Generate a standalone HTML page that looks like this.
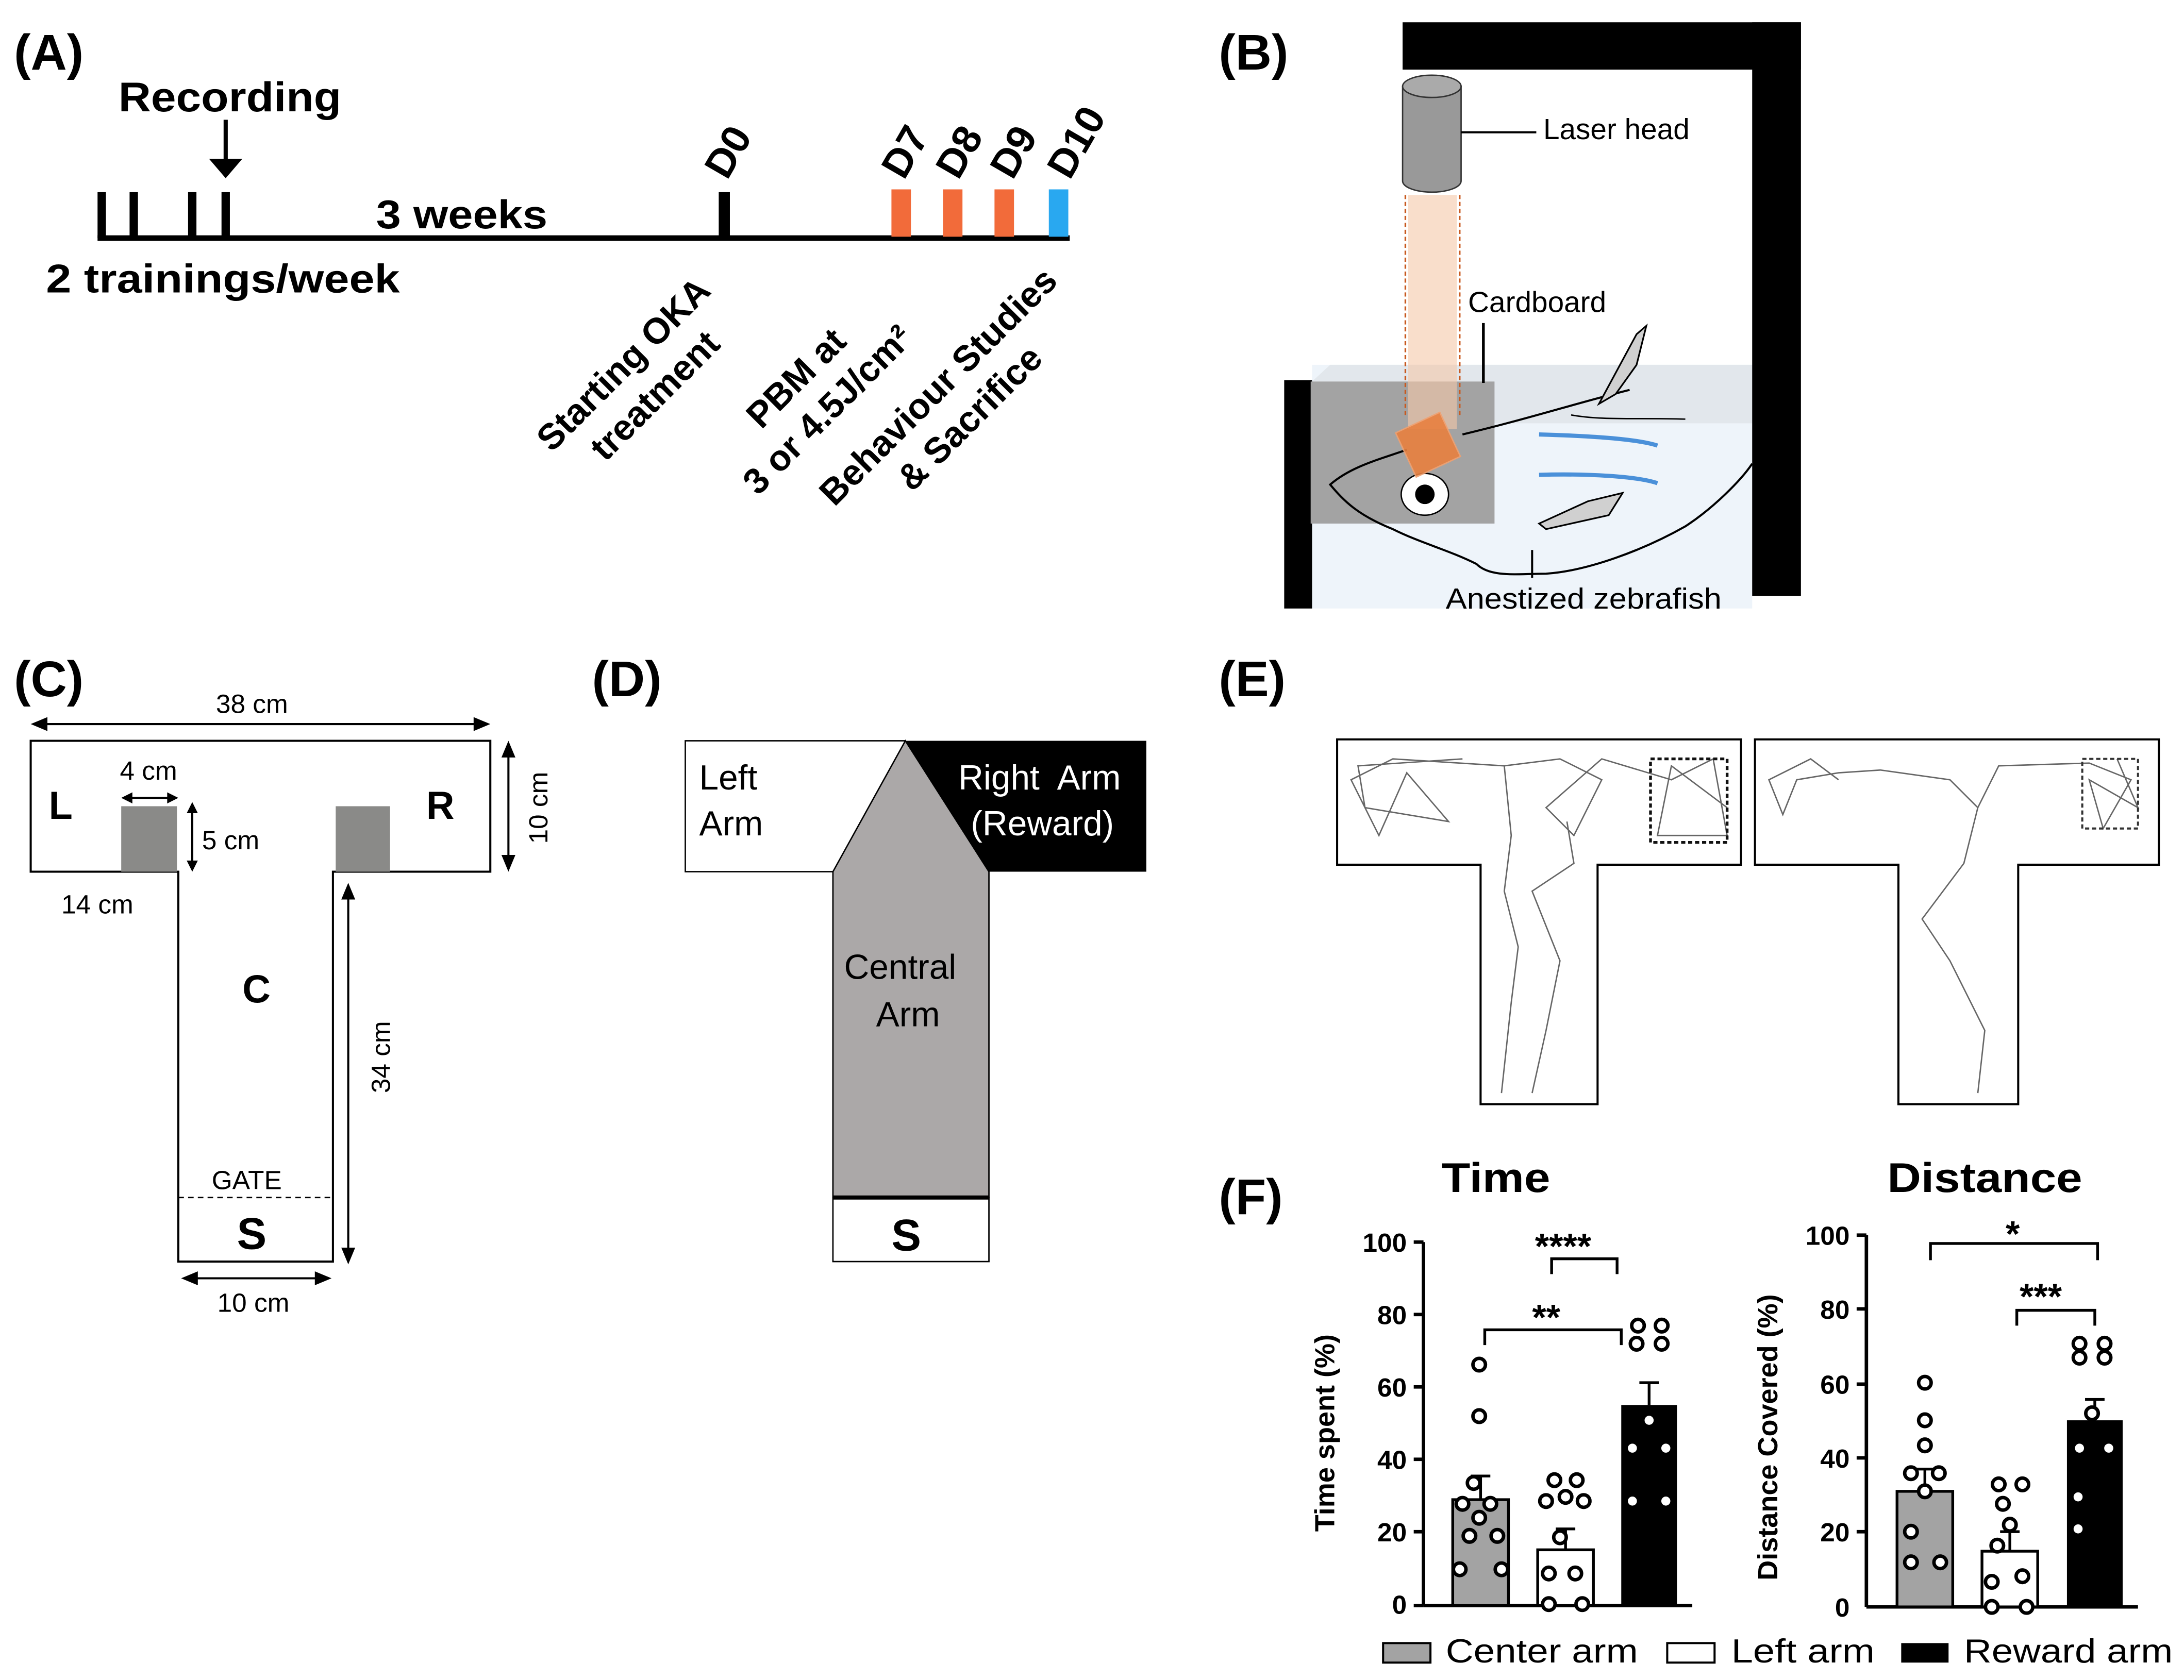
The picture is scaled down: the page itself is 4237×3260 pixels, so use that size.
<!DOCTYPE html>
<html><head><meta charset="utf-8"><style>html,body{margin:0;padding:0;background:#fff}svg{display:block}</style></head>
<body>
<svg width="4237" height="3260" viewBox="0 0 1568 1206.5" xmlns="http://www.w3.org/2000/svg" font-family="Liberation Sans, Arial, sans-serif">
<rect width="1568" height="1206.5" fill="#fff"/>
<!-- Panel A -->
<g>
<text x="10" y="50" font-size="36" font-weight="bold">(A)</text>
<text x="85" y="80" font-size="30" font-weight="bold" textLength="160" lengthAdjust="spacingAndGlyphs">Recording</text>
<line x1="162" y1="86" x2="162" y2="118" stroke="#000" stroke-width="3"/>
<polygon points="150,114 174,114 162,128" fill="#000"/>
<line x1="70" y1="171" x2="768" y2="171" stroke="#000" stroke-width="4"/>
<g fill="#000"><rect x="70" y="138" width="6" height="33"/><rect x="93" y="138" width="6" height="33"/>
<rect x="135" y="138" width="6" height="33"/><rect x="159" y="138" width="6" height="33"/>
<rect x="516" y="138" width="8" height="33"/></g>
<rect x="640" y="136" width="14" height="34" fill="#f26b3a"/>
<rect x="677" y="136" width="14" height="34" fill="#f26b3a"/>
<rect x="714" y="136" width="14" height="34" fill="#f26b3a"/>
<rect x="753" y="136" width="14" height="34" fill="#29a8f0"/>
<text x="270" y="164" font-size="29" font-weight="bold" textLength="123" lengthAdjust="spacingAndGlyphs">3 weeks</text>
<text x="33" y="210" font-size="29" font-weight="bold" textLength="254" lengthAdjust="spacingAndGlyphs">2 trainings/week</text>
<g font-size="29" font-weight="bold">
<text transform="translate(522,130) rotate(-60)">D0</text>
<text transform="translate(649,130) rotate(-60)">D7</text>
<text transform="translate(688,130) rotate(-60)">D8</text>
<text transform="translate(727,130) rotate(-60)">D9</text>
<text transform="translate(768,130) rotate(-60)">D10</text>
</g>
<g font-size="26" font-weight="bold" text-anchor="middle">
<text transform="translate(458,272) rotate(-45)"><tspan x="0" y="-6">Starting OKA</tspan><tspan x="0" y="26">treatment</tspan></text>
<text transform="translate(582,282) rotate(-45)"><tspan x="0" y="-6">PBM at</tspan><tspan x="0" y="26">3 or 4.5J/cm²</tspan></text>
<text transform="translate(684,288) rotate(-45)"><tspan x="0" y="-6">Behaviour Studies</tspan><tspan x="0" y="26">&amp; Sacrifice</tspan></text>
</g>
</g>
<!-- Panel B -->
<g>
<text x="875" y="50" font-size="36" font-weight="bold">(B)</text>
<rect x="942" y="262" width="316" height="175" fill="#eef4fa"/>
<polygon points="942,274 955,262 1258,262 1258,304 942,304" fill="#e2e7ec"/>
<rect x="1007" y="16" width="286" height="34" fill="#000"/>
<rect x="1258" y="16" width="35" height="412" fill="#000"/>
<rect x="922" y="273" width="20" height="164" fill="#000"/>
<rect x="941" y="274" width="132" height="102" fill="#a3a3a3"/>
<rect x="1011" y="140" width="35" height="168" fill="#f5c8a8" opacity="0.6"/>
<line x1="1009" y1="140" x2="1009" y2="300" stroke="#c85a20" stroke-width="1.2" stroke-dasharray="3,2"/>
<line x1="1048" y1="140" x2="1048" y2="300" stroke="#c85a20" stroke-width="1.2" stroke-dasharray="3,2"/>
<path d="M1007,62 L1007,130 A21,8 0 0 0 1049,130 L1049,62 Z" fill="#999" stroke="#333"/>
<ellipse cx="1028" cy="62" rx="21" ry="8" fill="#aaa" stroke="#333"/>
<line x1="1049" y1="95" x2="1103" y2="95" stroke="#000" stroke-width="1.5"/>
<text x="1108" y="100" font-size="21">Laser head</text>
<text x="1054" y="224" font-size="21">Cardboard</text>
<line x1="1065" y1="232" x2="1065" y2="275" stroke="#000" stroke-width="2"/>
<path d="M1050,312 C1100,300 1130,290 1170,280 M1010,323 C990,330 970,335 955,348 C965,360 975,370 1000,380 C1020,390 1040,395 1060,405 C1070,415 1090,412 1110,412 C1140,410 1180,395 1210,378 C1230,365 1250,345 1258,333" fill="none" stroke="#000" stroke-width="1.5"/>
<path d="M1148,290 L1175,240 L1182,234 L1175,262 L1160,283 Z" fill="#d0d0d0" stroke="#000" stroke-width="1.2"/>
<path d="M1105,376 L1140,360 L1165,354 L1155,370 L1110,380 Z" fill="#d0d0d0" stroke="#000" stroke-width="1.2"/>
<path d="M1105,312 C1140,313 1175,315 1190,320 M1105,341 C1140,340 1175,342 1190,347" stroke="#4a90d9" stroke-width="3" fill="none"/>
<path d="M1128,298 C1150,302 1175,300 1210,301" stroke="#000" fill="none"/>
<ellipse cx="1023" cy="355" rx="17" ry="15" fill="#fff" stroke="#000"/>
<circle cx="1023" cy="355" r="7" fill="#000"/>
<rect x="1008" y="302" width="35" height="35" fill="#e8803f" opacity="0.9" stroke="#f0a070" transform="rotate(-25 1025 320)"/>
<line x1="1100" y1="395" x2="1100" y2="415" stroke="#000" stroke-width="1.5"/>
<text x="1038" y="437" font-size="21" textLength="198" lengthAdjust="spacingAndGlyphs">Anestized zebrafish</text>
</g>
<!-- Panel C -->
<g>
<text x="10" y="500" font-size="36" font-weight="bold">(C)</text>
<path d="M22,532 H352 V626 H239 V906 H128 V626 H22 Z" fill="#fff" stroke="#000" stroke-width="1.5"/>
<rect x="87" y="579" width="40" height="47" fill="#8a8a88"/>
<rect x="241" y="579" width="39" height="47" fill="#8a8a88"/>
<line x1="128" y1="860" x2="239" y2="860" stroke="#000" stroke-dasharray="4,3"/>
<g stroke="#000" stroke-width="1.5" fill="none"><line x1="28" y1="520" x2="345" y2="520"/><line x1="365" y1="538" x2="365" y2="620"/><line x1="250" y1="640" x2="250" y2="902"/><line x1="138" y1="918" x2="232" y2="918"/><line x1="90" y1="573" x2="125" y2="573"/><line x1="138" y1="580" x2="138" y2="622"/></g>
<g fill="#000"><polygon points="22,520 34,515 34,525"/><polygon points="352,520 340,515 340,525"/><polygon points="365,532 360,544 370,544"/><polygon points="365,626 360,614 370,614"/><polygon points="250,634 245,646 255,646"/><polygon points="250,908 245,896 255,896"/><polygon points="130,918 142,913 142,923"/><polygon points="238,918 226,913 226,923"/><polygon points="87,573 95,569 95,577"/><polygon points="128,573 120,569 120,577"/><polygon points="138,576 134,584 142,584"/><polygon points="138,626 134,618 142,618"/></g>
<g font-size="19"><text x="155" y="512">38 cm</text><text x="86" y="560">4 cm</text><text x="145" y="610">5 cm</text><text x="44" y="656">14 cm</text><text x="156" y="942">10 cm</text><text x="152" y="854">GATE</text>
<text transform="translate(393,606) rotate(-90)">10 cm</text><text transform="translate(280,785) rotate(-90)">34 cm</text></g>
<g font-size="28" font-weight="bold"><text x="35" y="588">L</text><text x="306" y="588">R</text><text x="174" y="720">C</text><text x="170" y="897" font-size="32">S</text></g>
</g>
<!-- Panel D -->
<g>
<text x="425" y="500" font-size="36" font-weight="bold">(D)</text>
<rect x="492" y="532" width="158" height="94" fill="#fff" stroke="#000"/>
<polygon points="650,532 823,532 823,626 710,626" fill="#000"/>
<polygon points="598,626 650,532 710,626 710,860 598,860" fill="#aba8a8" stroke="#000"/>
<rect x="598" y="860" width="112" height="46" fill="#fff" stroke="#000"/>
<line x1="598" y1="860" x2="710" y2="860" stroke="#000" stroke-width="3"/>
<g font-size="25"><text x="502" y="567">Left</text><text x="502" y="600">Arm</text>
<text x="688" y="567" fill="#fff" xml:space="preserve">Right  Arm</text><text x="697" y="600" fill="#fff">(Reward)</text>
<text x="606" y="703">Central</text><text x="629" y="737">Arm</text></g>
<text x="640" y="898" font-size="32" font-weight="bold">S</text>
</g>
<!-- Panel E -->
<g>
<text x="875" y="500" font-size="36" font-weight="bold">(E)</text>
<path d="M960,531 H1250 V621 H1147 V793 H1063 V621 H960 Z" fill="#fff" stroke="#000" stroke-width="1.5"/>
<path d="M1260,531 H1550 V621 H1449 V793 H1363 V621 H1260 Z" fill="#fff" stroke="#000" stroke-width="1.5"/>
<g fill="none" stroke="#666" stroke-width="1">
<path d="M1078,785 L1085,720 L1090,680 L1080,640 L1085,600 L1080,550 L1120,545 L1150,560 L1130,600 L1110,580 L1150,545 L1200,560 L1230,545 L1240,600 L1190,600 L1200,550 L1240,580 M1080,550 L1000,545 L970,560 L990,600 L1010,555 L1040,590 L980,580 L975,550 L1050,545"/>
<path d="M1100,785 L1110,740 L1120,690 L1100,640 L1130,620 L1125,590"/>
<path d="M1420,785 L1425,740 L1400,690 L1380,660 L1410,620 L1420,580 L1435,550 L1500,548 L1530,560 L1510,595 L1500,560 L1535,580 L1520,545 M1420,580 L1400,560 L1350,553 L1320,555 L1290,560 L1280,585 L1270,560 L1300,545 L1320,560"/>
</g>
<rect x="1185" y="545" width="55" height="60" fill="none" stroke="#111" stroke-width="2" stroke-dasharray="3,2"/>
<rect x="1495" y="545" width="40" height="50" fill="none" stroke="#333" stroke-width="1.5" stroke-dasharray="3,2"/>
</g>
<!-- Panel F -->
<g>
<text x="875" y="872" font-size="36" font-weight="bold">(F)</text>
<text x="1035" y="856" font-size="30" font-weight="bold" textLength="78" lengthAdjust="spacingAndGlyphs">Time</text>
<text x="1355" y="856" font-size="30" font-weight="bold" textLength="140" lengthAdjust="spacingAndGlyphs">Distance</text>
<g stroke="#000" stroke-width="2.5" fill="none">
<line x1="1022" y1="892" x2="1022" y2="1153"/><line x1="1022" y1="1153" x2="1215" y2="1153"/>
<line x1="1015" y1="892" x2="1022" y2="892"/><line x1="1015" y1="944" x2="1022" y2="944"/><line x1="1015" y1="996" x2="1022" y2="996"/><line x1="1015" y1="1048" x2="1022" y2="1048"/><line x1="1015" y1="1100" x2="1022" y2="1100"/><line x1="1015" y1="1153" x2="1022" y2="1153"/>
</g>
<g font-size="19" font-weight="bold" text-anchor="end"><text x="1010" y="899">100</text><text x="1010" y="951">80</text><text x="1010" y="1003">60</text><text x="1010" y="1055">40</text><text x="1010" y="1107">20</text><text x="1010" y="1159">0</text></g>
<text transform="translate(958,1100) rotate(-90)" font-size="20" font-weight="bold">Time spent (%)</text>
<rect x="1043" y="1077" width="40" height="76" fill="#a3a3a3" stroke="#000" stroke-width="2"/>
<rect x="1104" y="1113" width="40" height="40" fill="#fff" stroke="#000" stroke-width="2"/>
<rect x="1164" y="1009" width="40" height="144" fill="#000"/>
<g stroke="#000" stroke-width="2" fill="none">
<path d="M1063,1077 V1060 M1056,1060 H1070 M1124,1113 V1098 M1117,1098 H1131 M1184,1009 V993 M1177,993 H1191"/>
<path d="M1066,966 V955 H1164 V966 M1114,915 V904 H1161 V915"/>
</g>
<g font-size="26" font-weight="bold"><text x="1100" y="955">**</text><text x="1102" y="904">****</text></g>
<g fill="#fff" stroke="#000" stroke-width="2.5">
<circle cx="1062" cy="980" r="4.5"/><circle cx="1062" cy="1017" r="4.5"/><circle cx="1058" cy="1065" r="4.5"/><circle cx="1050" cy="1080" r="4.5"/><circle cx="1070" cy="1080" r="4.5"/><circle cx="1062" cy="1090" r="4.5"/><circle cx="1055" cy="1103" r="4.5"/><circle cx="1075" cy="1103" r="4.5"/><circle cx="1048" cy="1127" r="4.5"/><circle cx="1078" cy="1127" r="4.5"/>
<circle cx="1116" cy="1063" r="4.5"/><circle cx="1132" cy="1063" r="4.5"/><circle cx="1110" cy="1078" r="4.5"/><circle cx="1124" cy="1075" r="4.5"/><circle cx="1137" cy="1078" r="4.5"/><circle cx="1120" cy="1104" r="4.5"/><circle cx="1112" cy="1130" r="4.5"/><circle cx="1131" cy="1130" r="4.5"/><circle cx="1112" cy="1152" r="4.5"/><circle cx="1136" cy="1152" r="4.5"/>
<circle cx="1176" cy="952" r="4.5"/><circle cx="1193" cy="952" r="4.5"/><circle cx="1175" cy="965" r="4.5"/><circle cx="1193" cy="965" r="4.5"/><circle cx="1184" cy="1020" r="4.5"/><circle cx="1172" cy="1040" r="4.5"/><circle cx="1196" cy="1040" r="4.5"/><circle cx="1172" cy="1078" r="4.5"/><circle cx="1196" cy="1078" r="4.5"/>
</g>
<g stroke="#000" stroke-width="2.5" fill="none">
<line x1="1340" y1="887" x2="1340" y2="1154"/><line x1="1340" y1="1154" x2="1535" y2="1154"/>
<line x1="1333" y1="887" x2="1340" y2="887"/><line x1="1333" y1="940" x2="1340" y2="940"/><line x1="1333" y1="994" x2="1340" y2="994"/><line x1="1333" y1="1047" x2="1340" y2="1047"/><line x1="1333" y1="1100" x2="1340" y2="1100"/>
</g>
<g font-size="19" font-weight="bold" text-anchor="end"><text x="1328" y="894">100</text><text x="1328" y="947">80</text><text x="1328" y="1001">60</text><text x="1328" y="1054">40</text><text x="1328" y="1107">20</text><text x="1328" y="1161">0</text></g>
<text transform="translate(1276,1135) rotate(-90)" font-size="20" font-weight="bold">Distance Covered (%)</text>
<rect x="1362" y="1071" width="40" height="83" fill="#a3a3a3" stroke="#000" stroke-width="2"/>
<rect x="1423" y="1114" width="40" height="40" fill="#fff" stroke="#000" stroke-width="2"/>
<rect x="1484" y="1020" width="40" height="134" fill="#000"/>
<g stroke="#000" stroke-width="2" fill="none">
<path d="M1382,1071 V1055 M1375,1055 H1389 M1443,1114 V1100 M1436,1100 H1450 M1504,1020 V1005 M1497,1005 H1511"/>
<path d="M1386,905 V893 H1506 V905 M1448,952 V941 H1504 V952"/>
</g>
<g font-size="26" font-weight="bold"><text x="1440" y="895">*</text><text x="1450" y="940">***</text></g>
<g fill="#fff" stroke="#000" stroke-width="2.5">
<circle cx="1382" cy="993" r="4.5"/><circle cx="1382" cy="1020" r="4.5"/><circle cx="1382" cy="1038" r="4.5"/><circle cx="1372" cy="1058" r="4.5"/><circle cx="1392" cy="1058" r="4.5"/><circle cx="1382" cy="1071" r="4.5"/><circle cx="1372" cy="1100" r="4.5"/><circle cx="1372" cy="1122" r="4.5"/><circle cx="1393" cy="1122" r="4.5"/>
<circle cx="1435" cy="1066" r="4.5"/><circle cx="1452" cy="1066" r="4.5"/><circle cx="1438" cy="1080" r="4.5"/><circle cx="1443" cy="1095" r="4.5"/><circle cx="1434" cy="1110" r="4.5"/><circle cx="1430" cy="1136" r="4.5"/><circle cx="1452" cy="1132" r="4.5"/><circle cx="1430" cy="1154" r="4.5"/><circle cx="1455" cy="1154" r="4.5"/>
<circle cx="1493" cy="965" r="4.5"/><circle cx="1511" cy="965" r="4.5"/><circle cx="1493" cy="975" r="4.5"/><circle cx="1511" cy="975" r="4.5"/><circle cx="1502" cy="1015" r="4.5"/><circle cx="1493" cy="1040" r="4.5"/><circle cx="1514" cy="1040" r="4.5"/><circle cx="1492" cy="1075" r="4.5"/><circle cx="1492" cy="1098" r="4.5"/>
</g>
<rect x="993" y="1180" width="34" height="14" fill="#a3a3a3" stroke="#000" stroke-width="1.5"/>
<text x="1038" y="1194" font-size="24" textLength="138" lengthAdjust="spacingAndGlyphs">Center arm</text>
<rect x="1197" y="1180" width="34" height="14" fill="#fff" stroke="#000" stroke-width="1.5"/>
<text x="1243" y="1194" font-size="24" textLength="103" lengthAdjust="spacingAndGlyphs">Left arm</text>
<rect x="1365" y="1180" width="34" height="14" fill="#000"/>
<text x="1410" y="1194" font-size="24" textLength="150" lengthAdjust="spacingAndGlyphs">Reward arm</text>
</g>
</svg>
</body></html>
